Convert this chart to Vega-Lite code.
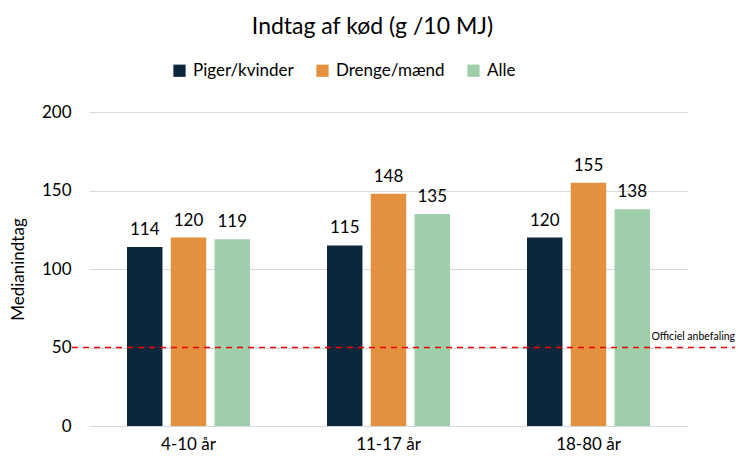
{
  "$schema": "https://vega.github.io/schema/vega-lite/v6.json",
  "autosize": "none",
  "width": 599,
  "height": 314,
  "padding": {"left": 89, "top": 112, "right": 62, "bottom": 37},
  "background": "white",
  "config": {
    "font": "Lato",
    "view": {"stroke": null}
  },
  "title": {
    "text": "Indtag af kød (g /10 MJ)",
    "fontSize": 23,
    "fontWeight": "normal",
    "color": "#000000",
    "anchor": "middle",
    "frame": "group",
    "dx": -16,
    "offset": 23
  },
  "data": {
    "values": [
      {"gruppe": "4-10 år", "serie": "Piger/kvinder", "vaerdi": 114},
      {"gruppe": "4-10 år", "serie": "Drenge/mænd", "vaerdi": 120},
      {"gruppe": "4-10 år", "serie": "Alle", "vaerdi": 119},
      {"gruppe": "11-17 år", "serie": "Piger/kvinder", "vaerdi": 115},
      {"gruppe": "11-17 år", "serie": "Drenge/mænd", "vaerdi": 148},
      {"gruppe": "11-17 år", "serie": "Alle", "vaerdi": 135},
      {"gruppe": "18-80 år", "serie": "Piger/kvinder", "vaerdi": 120},
      {"gruppe": "18-80 år", "serie": "Drenge/mænd", "vaerdi": 155},
      {"gruppe": "18-80 år", "serie": "Alle", "vaerdi": 138}
    ]
  },
  "layer": [
    {
      "layer": [
        {
          "mark": {"type": "bar"},
          "encoding": {
            "x": {
              "field": "gruppe", "type": "nominal",
              "sort": ["4-10 år", "11-17 år", "18-80 år"],
              "scale": {"paddingInner": 0.385, "paddingOuter": 0.19},
              "axis": {
                "title": null, "labelAngle": 0, "labelFontSize": 17, "labelColor": "#000000",
                "ticks": false, "domainColor": "#D9D9D9", "labelPadding": 10
              }
            },
            "xOffset": {
              "field": "serie", "type": "nominal",
              "sort": ["Piger/kvinder", "Drenge/mænd", "Alle"],
              "scale": {"paddingInner": 0.19, "paddingOuter": 0}
            },
            "y": {
              "field": "vaerdi", "type": "quantitative",
              "scale": {"domain": [0, 200]},
              "axis": {
                "title": "Medianindtag", "titleFontSize": 17, "titleFontWeight": "normal", "titleColor": "#000000",
                "titlePadding": 14,
                "values": [0, 50, 100, 150, 200], "labelFontSize": 17, "labelColor": "#000000",
                "ticks": false, "domain": false, "gridColor": "#D9D9D9", "labelPadding": 18
              }
            },
            "color": {
              "field": "serie", "type": "nominal",
              "sort": ["Piger/kvinder", "Drenge/mænd", "Alle"],
              "scale": {"domain": ["Piger/kvinder", "Drenge/mænd", "Alle"], "range": ["#0C263B", "#E3913F", "#9FCFAA"]},
              "legend": {
                "title": null, "orient": "none", "direction": "horizontal",
                "legendX": 82, "legendY": -50,
                "symbolType": "square", "symbolSize": 150, "symbolStrokeWidth": 0,
                "labelFontSize": 17, "labelColor": "#000000", "columnPadding": 20, "labelOffset": 5
              }
            }
          }
        },
        {
          "mark": {"type": "text", "baseline": "bottom", "dy": -8, "fontSize": 17, "color": "#000000"},
          "encoding": {
            "x": {"field": "gruppe", "type": "nominal", "sort": ["4-10 år", "11-17 år", "18-80 år"]},
            "xOffset": {"field": "serie", "type": "nominal", "sort": ["Piger/kvinder", "Drenge/mænd", "Alle"]},
            "y": {"field": "vaerdi", "type": "quantitative"},
            "text": {"field": "vaerdi", "type": "quantitative"}
          }
        }
      ]
    },
    {
      "data": {"values": [{"anbefaling": 50, "tekst": "Officiel anbefaling"}]},
      "layer": [
        {
          "mark": {"type": "rule", "color": "#F00000", "strokeWidth": 1.5, "strokeDash": [6, 5]},
          "encoding": {
            "x": {"datum": 0, "type": "quantitative", "scale": {"domain": [0, 1], "range": [-17, 646]}, "axis": null},
            "x2": {"datum": 1},
            "y": {"field": "anbefaling", "type": "quantitative"}
          }
        },
        {
          "mark": {"type": "text", "align": "right", "baseline": "bottom", "dy": -6, "fontSize": 10.5, "color": "#000000"},
          "encoding": {
            "x": {"datum": 1, "type": "quantitative", "scale": {"domain": [0, 1], "range": [-17, 646]}, "axis": null},
            "y": {"field": "anbefaling", "type": "quantitative"},
            "text": {"field": "tekst", "type": "nominal"}
          }
        }
      ]
    }
  ],
  "resolve": {"scale": {"x": "independent"}}
}
